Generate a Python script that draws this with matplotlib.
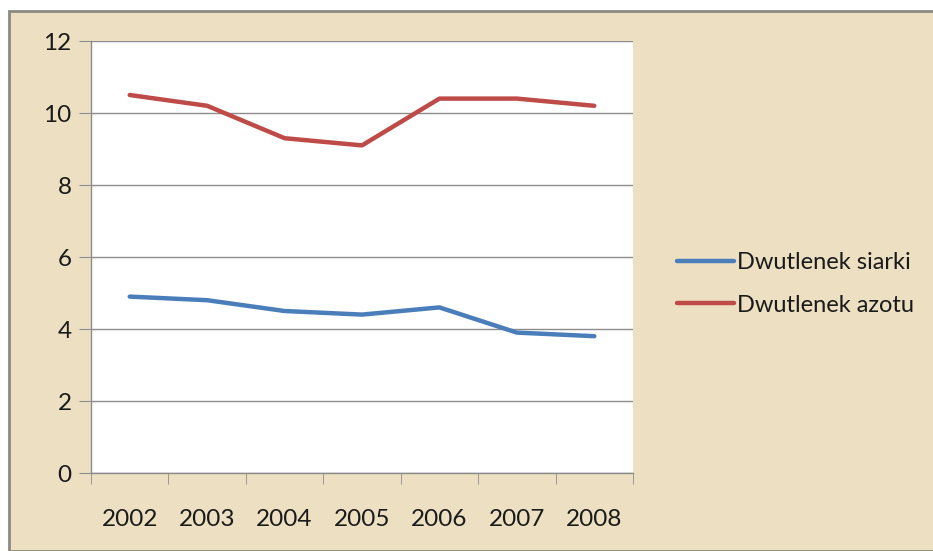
import matplotlib
matplotlib.use('Agg')
import matplotlib.pyplot as plt
from matplotlib.patches import Rectangle
import numpy as np

BLUE = '#4A7EBB'
RED = '#BE4B48'
PARCHMENT = '#EDE0C2'
GRID = '#8C8C8C'
plt.rcParams['font.family'] = ['Lato', 'DejaVu Sans']

years = ['2002', '2003', '2004', '2005', '2006', '2007', '2008']
siarki = [4.9, 4.8, 4.5, 4.4, 4.6, 3.9, 3.8]
azotu = [10.5, 10.2, 9.3, 9.1, 10.4, 10.4, 10.2]
yticks = [0, 2, 4, 6, 8, 10, 12]

fig = plt.figure(figsize=(9.33, 5.51), dpi=100)
fig.patch.set_facecolor('white')
# parchment card with grey border
fig.patches.append(Rectangle((9 / 933, 0), 1.0, 1 - 11 / 551, transform=fig.transFigure,
                             facecolor=PARCHMENT, edgecolor='#8A8A80', linewidth=2, zorder=-5))

ax = fig.add_axes([91 / 933, 1 - 473 / 551, (633 - 91) / 933, (473 - 41) / 551])
ax.set_zorder(2)
ax.set_facecolor('white')
x = np.arange(len(years))
l1, = ax.plot(x, siarki, color=BLUE, linewidth=3.2, solid_capstyle='round', label='Dwutlenek siarki')
l2, = ax.plot(x, azotu, color=RED, linewidth=3.2, solid_capstyle='round', label='Dwutlenek azotu')

ax.set_xlim(-0.5, len(years) - 0.5)
ax.set_ylim(0, 12)
ax.set_yticks(yticks)
ax.set_yticklabels([str(v) for v in yticks], fontsize=17.5, color='#1a1a1a')
ax.yaxis.grid(True, color=GRID, linewidth=1)
ax.set_axisbelow(True)

ax.set_xticks(x)
ax.set_xticklabels(years, fontsize=17.5, color='#1a1a1a')
ax.set_xticks(np.arange(-0.5, len(years)), minor=True)
ax.tick_params(axis='x', which='major', length=0, pad=26)
ax.tick_params(axis='x', which='minor', length=8, color=GRID, direction='out')
ax.tick_params(axis='y', length=9, color=GRID, direction='out', pad=5)

for s in ['top', 'right']:
    ax.spines[s].set_visible(False)
for s in ['left', 'bottom']:
    ax.spines[s].set_color(GRID)
    ax.spines[s].set_linewidth(1)

leg = fig.legend(handles=[l1, l2], loc='center left', bbox_to_anchor=(656 / 933, 1 - 284 / 551),
                 frameon=False, fontsize=17, handlelength=2.4, handletextpad=0.15, labelspacing=0.9)
for t in leg.get_texts():
    t.set_color('#1a1a1a')

fig.savefig('out.png', dpi=100)
